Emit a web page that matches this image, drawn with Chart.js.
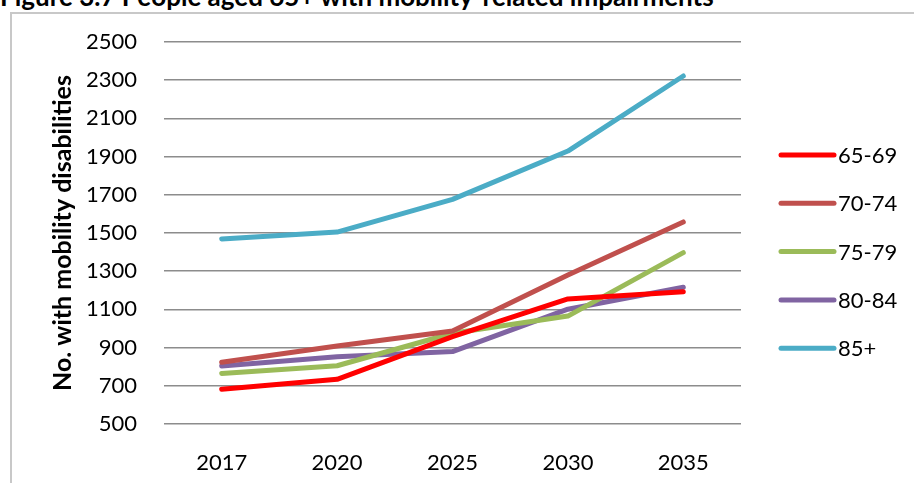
<!DOCTYPE html>
<html>
<head>
<meta charset="utf-8">
<script src="https://cdn.jsdelivr.net/npm/chart.js@4"></script>
<style>
  html, body { margin: 0; padding: 0; background: #fff; overflow: hidden; }
  #wrap { position: relative; width: 914px; height: 483px; }
  #title {
    position: absolute; left: 0; top: -16px; white-space: nowrap;
    font: bold 26px Lato, sans-serif; line-height: 25px; color: #000;
  }
  #frame {
    position: absolute; left: 10px; top: 12px; width: 940px; height: 500px;
    border: 2px solid #c8c8c8; box-sizing: border-box;
  }
  canvas { position: absolute; left: 0; top: 0; }
</style>
</head>
<body>
<div id="wrap">
  <div id="title">Figure 3.7 People aged 65+ with mobility-related impairments</div>
  <div id="frame"></div>
  <canvas id="chart" width="914" height="483"></canvas>
</div>
<script>
const years = ['2017', '2020', '2025', '2030', '2035'];
const ageGroups = ['65-69', '70-74', '75-79', '80-84', '85+'];
const v65_69 = [682, 734, 957, 1155, 1193];
const v70_74 = [823, 908, 987, 1280, 1558];
const v75_79 = [765, 805, 975, 1065, 1397];
const v80_84 = [804, 852, 879, 1101, 1216];
const v85plus = [1469, 1505, 1676, 1929, 2322];
const colors = ['#FF0000', '#C0504D', '#9BBB59', '#8064A2', '#4BACC6'];

const seriesValues = [v65_69, v70_74, v75_79, v80_84, v85plus];

// legend drawn by hand, Excel style: short thick line then the label
const sideLegend = {
  id: 'sideLegend',
  afterDraw(chart) {
    const c = chart.ctx;
    c.save();
    c.font = '22px Lato, sans-serif';
    c.textBaseline = 'middle';
    c.lineCap = 'round';
    c.lineWidth = 5;
    chart.data.datasets.forEach((ds, i) => {
      const y = 155 + i * 48.3;
      c.strokeStyle = ds.borderColor;
      c.beginPath();
      c.moveTo(781, y);
      c.lineTo(834, y);
      c.stroke();
      c.fillStyle = '#000';
      c.fillText(ds.label, 838, y + 1);
    });
    c.restore();
  }
};

const ctx = document.getElementById('chart');

new Chart(ctx, {
  type: 'line',
  data: {
    labels: years,
    datasets: ageGroups.map((g, i) => ({
      label: g,
      data: seriesValues[i],
      borderColor: colors[i],
      backgroundColor: colors[i],
      borderWidth: 5,
      borderCapStyle: 'round',
      borderJoinStyle: 'round',
      pointRadius: 0,
      tension: 0
    }))
  },
  options: {
    responsive: false,
    animation: false,
    layout: {
      padding: { left: 44, top: 42, right: 173, bottom: 0 }
    },
    plugins: {
      tooltip: { enabled: false },
      legend: { display: false }
    },
    scales: {
      x: {
        offset: true,
        grid: { display: false, drawTicks: false },
        border: { display: false },
        ticks: {
          padding: 26,
          color: '#000',
          font: { family: 'Lato, sans-serif', size: 22 }
        },
        afterFit(scale) { scale.height = 59; }
      },
      y: {
        min: 500,
        max: 2500,
        ticks: {
          stepSize: 200,
          padding: 27,
          color: '#000',
          font: { family: 'Lato, sans-serif', size: 22 },
          callback: (v) => String(v)
        },
        grid: { color: '#8c8c8c', lineWidth: 1.5, drawTicks: false },
        border: { display: false },
        title: {
          display: true,
          text: 'No. with mobility disabilities',
          color: '#000',
          font: { family: 'Lato, sans-serif', size: 25, weight: 'bold' }
        },
        afterFit(scale) { scale.width = 120; }
      }
    }
  },
  plugins: [sideLegend]
});
</script>
</body>
</html>
